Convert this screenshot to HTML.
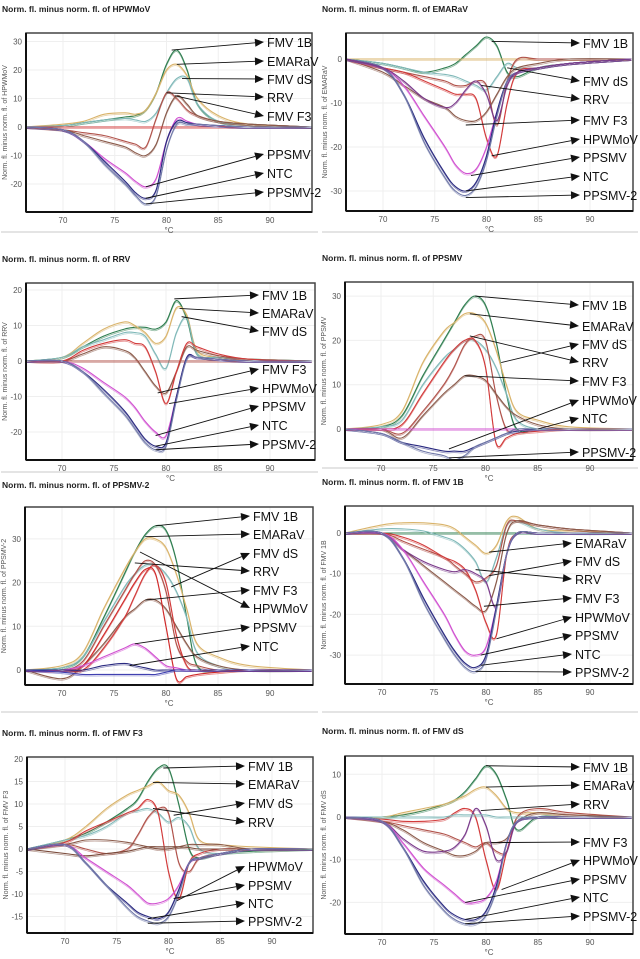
<!DOCTYPE html>
<html><head><meta charset="utf-8">
<style>
html,body{margin:0;padding:0;background:#fff;}
svg{display:block;font-family:"Liberation Sans",sans-serif;}
</style></head>
<body>
<svg id="fig" width="640" height="959" viewBox="0 0 640 959" xmlns="http://www.w3.org/2000/svg"></svg>
<script>
const X=[67,70,72,74,76,77,78,79,80,81,82,83,85,88,94];
const xTicks=[70,75,80,85,90];

const hpwmovNames=["FMV 1B","EMARaV","FMV dS","RRV","FMV F3","HPWMoV","PPSMV","NTC","PPSMV-2"];
const hpwmovSeries=[
[0,0.5,1.5,2.5,3.5,4,6,12,22,27,20,8,2,1,0],
[0,1,2,4.5,5,4.5,6,12,20,22,18,10,4,1,0],
[0,0.5,1.5,2.5,3,2.5,2,5,12,17,17,8,2,1,0],
[0,-1,-2,-3,-5,-6,-7,3,12,10,6,4,2,1,0],
[0,-1,-3,-5,-7,-9,-10,-6,5,11,8,4,2,1,0],
[0,0,0,0,0,0,0,0,0,0,0,0,0,0,0],
[0,-1,-5,-11,-16,-19,-21,-18,-5,3,2,1,0.5,0,0],
[0,-1,-5,-12,-19,-23,-25,-22,-5,2,1.5,1,0.5,0,0],
[0,-1,-5,-13,-20,-24,-27,-24,-8,1,1,1,0.5,0,0]];
const hpwmovYTicks=[-20,-10,0,10,20,30];

const emaravNames=["FMV 1B","EMARaV","FMV dS","RRV","FMV F3","HPWMoV","PPSMV","NTC","PPSMV-2","purple"];
const emaravSeries=[
[0,-1,-2,-3,-2,-1,1,3,5,3,-3,-4,-2,-1,0],
[0,0,0,0,0,0,0,0,0,0,0,0,0,0,0],
[0,-1,-2,-3,-3.5,-4,-5,-6,-7,-4,-1,-2,-2,-1,0],
[0,-2,-3,-4,-5,-6,-6,-5,-6,-15,-5,0,0,0,0],
[0,-3,-6,-9,-11,-13,-14,-14,-12,-8,-4,-2,-1,0,0],
[0,-2,-3,-5,-7,-8,-8,-9,-18,-22,-10,-3,-2,-1,0],
[0,-2,-6,-13,-20,-24,-26,-25,-20,-12,-5,-3,-2,-1,0],
[0,-2,-8,-18,-26,-29,-30,-28,-22,-12,-5,-3,-2,-1,0],
[0,-2,-8,-19,-27,-30,-31,-29,-23,-13,-5,-3,-2,-1,0],
[0,-2,-5,-9,-11,-10,-7,-5,-8,-14,-6,-3,-2,-1,0]];
const emaravYTicks=[-30,-20,-10,0];

const rrvNames=["FMV 1B","EMARaV","FMV dS","FMV F3","HPWMoV","RRV","PPSMV","NTC","PPSMV-2"];
const rrvSeries=[
[0,1,4,7,9,9.5,9.5,9,11,17,12,2,1,0.5,0],
[0,1,5,9,11,10,8,5,7,15,13,3,1,0.5,0],
[0,1,4,6,8,8,7,2,-2,8,12,2,1,0.5,0],
[0,0,2,4,3,1,-3,-7,-9,-3,4,3,1.5,0.5,0],
[0,0,3,5,6,5,4,-3,-12,-3,5,4,2,0.5,0],
[0,0,0,0,0,0,0,0,0,0,0,0,0,0,0],
[0,0,-2,-6,-10,-13,-17,-20,-21,-10,1,1,0.5,0,0],
[0,0,-3,-8,-14,-18,-22,-24,-23,-10,1,1,0.5,0,0],
[0,0,-3,-9,-15,-19,-23,-25,-24,-11,0.5,1,0.5,0,0]];
const rrvYTicks=[-20,-10,0,10,20];

const ppsmvNames=["FMV 1B","EMARaV","FMV dS","RRV","FMV F3","HPWMoV","NTC","PPSMV","PPSMV-2"];
const ppsmvSeries=[
[0,0.5,3,12,20,24,28,30,28,20,8,0,0,0,0],
[0,1,4,15,22,24,26,26,24,18,10,4,2,0.5,0],
[0,0.5,2,10,16,18,20,20,18,14,8,2,0,0,0],
[0,0,-1,4,10,14,19,21,20,8,0,0,0,0,0],
[0,0,-2,3,8,10,12,12,11,8,5,3,1,0,0],
[0,0,1,8,15,18,20,20,14,-3,-2,-1,-0.5,0,0],
[0,-1,-3,-4,-5,-5,-5,-4,-3,-2,-1,-0.5,0,0,0],
[0,0,0,0,0,0,0,0,0,0,0,0,0,0,0],
[0,-1,-3,-5,-6,-7,-6,-4,-3,-2,-1,0,0,0,0]];
const ppsmvYTicks=[0,10,20,30];

const ppsmv2Names=["FMV 1B","EMARaV","FMV dS","RRV","FMV F3","HPWMoV","red","PPSMV","NTC","navy"];
const ppsmv2Series=[
[0,0.5,3,12,22,27,31,33,32,25,12,1,0,0,0],
[0,1,4,14,23,27,30,30,28,22,14,6,3,1,0],
[0,0.5,3,11,19,22,24,24,22,18,12,4,1,0,0],
[0,0,2,10,18,22,25,24,18,6,2,1,0,0,0],
[0,-2,1,6,12,14,16,16,14,10,6,3,1,0,0],
[0,0,0,5,12,17,22,24,20,8,1,0,0,0,0],
[0,0,1,8,16,20,23,22,10,-2,-1.5,-1,-0.5,0,0],
[0,0,1,3,5,6,5,3,1,0.5,0,0,0,0,0],
[0,0,0,1,1.5,1,0.5,0,0,0,0,0,0,0,0],
[0,-0.5,-1,-1,-1,-1,-1,-1,-0.5,0,0,0,0,0,0]];
const ppsmv2YTicks=[0,10,20,30];

const fmv1bNames=["FMV 1B","EMARaV","FMV dS","RRV","FMV F3","HPWMoV","purple","PPSMV","NTC","PPSMV-2"];
const fmv1bSeries=[
[0,0,0,0,0,0,0,0,0,0,0,0,0,0,0],
[0,2,2.5,2.5,2,1,-1,-3,-5,-3,3,4,1,0.5,0],
[0,1,1,0.5,-1,-2,-4,-7,-12,-6,2,3,1,0,0],
[0,0,-2,-4,-6,-8,-10,-12,-11,-8,2,3,2,1,0],
[0,0,-4,-8,-12,-14,-16,-18,-19,-12,0,3,2,1,0],
[0,0,-1,-3,-6,-7,-9,-14,-22,-25,-5,0,0,0,0],
[0,0,-4,-7,-9,-9.5,-9,-10,-12,-18,-5,0,0,0,0],
[0,0,-4,-12,-20,-25,-29,-30,-28,-18,-5,0,0,0,0],
[0,0,-6,-16,-25,-29,-32,-33,-30,-18,-5,0,0,0,0],
[0,0,-6,-17,-26,-30,-33,-34,-31,-19,-5,0,0,0,0]];
const fmv1bYTicks=[-30,-20,-10,0];

const fmvf3Names=["FMV 1B","EMARaV","FMV dS","RRV","HPWMoV","FMV F3","brown2","PPSMV","NTC","PPSMV-2"];
const fmvf3Series=[
[0,2,3.5,6,9,11,15,18,18,10,0,-2,-1,-0.5,0],
[0,2,5,9,12,13,14,15,13,12,8,2,1,0.5,0],
[0,2,3,5,8,8.5,9,8,6,7,5,0,-1,0,0],
[0,1,0,-1,0,3,7,9,8,-3,-5,-2,-1,0,0],
[0,1.5,4,6,8,9,11,8,-5,-11,-3,-1,0,0,0],
[0,1,2,2,1.5,1,0.5,0,0,0.5,1,1,1,0,0],
[0,-1,-1.5,-1,-0.5,0,0.5,0.5,0.5,0.5,0.3,0,0,0,0],
[0,1,-2,-5,-8,-10,-12,-12,-11,-8,-3,-2,-1,0,0],
[0,1,-3,-8,-12,-14,-15,-15.5,-14,-9,-3,-2,-1,0,0],
[0,1,-3,-8,-13,-15,-16,-16.5,-15,-10,-3,-2,-1,0,0]];
const fmvf3YTicks=[-15,-10,-5,0,5,10,15,20];

const fmvdsNames=["FMV 1B","EMARaV","RRV","FMV F3","HPWMoV","purple","FMV dS","PPSMV","NTC","PPSMV-2"];
const fmvdsSeries=[
[0,0,0.5,1.5,3,4,6,9,12,10,4,-3,0,0,0],
[0,0,1,2,3,4,5,6.5,7,5,2,1,1,0.5,0],
[0,-1,-2,-3,-4,-5,-6,-7,-6,-8,-8,0,2,1,0],
[0,-1,-3,-6,-8,-9,-9,-8,-6,-6,-5,-1,1,0.5,0],
[0,-0.5,-1,-1,-0.5,1,2,0,-10,-17,-8,-1,0,0,0],
[0,-1,-5,-8,-8,-7,-4,2,-2,-10,-8,-1,0,0,0],
[0,0,0,0,0,0.5,0.5,0.5,0.5,0,0,0,0,0,0],
[0,-1,-6,-12,-16,-18,-20,-20,-19,-15,-6,-1,0,0,0],
[0,-1,-7,-15,-21,-23,-24,-24,-22,-16,-6,-1,0,0,0],
[0,-1,-7,-16,-22,-24,-25,-25,-23,-17,-6,-1,0,0,0]];
const fmvdsYTicks=[-20,-10,0,10];

const colorOf={"FMV 1B":"#2e7d4f","EMARaV":"#d9b36a","FMV dS":"#7fb8b8","RRV":"#b0524a","FMV F3":"#8a5a4a","HPWMoV":"#d23a3a","PPSMV":"#d04fd0","NTC":"#2a2a80","PPSMV-2":"#7078a8","purple":"#7a3a8a","red":"#d02a2a","navy":"#4040b0","brown2":"#7a4a3a"};

const panels=[
{id:"hpwmov",title:"Norm. fl. minus norm. fl. of HPWMoV",ylab:"Norm. fl. minus norm. fl. of HPWMoV",names:hpwmovNames,series:hpwmovSeries,yt:hpwmovYTicks,
 fx0:26,fx1:312,fy0:33,fy1:212,x70:63,x90:270,y0:127,yp:2.85,ty:8,lx:267,
 labels:[["FMV 1B",80.5,27,42],["EMARaV",81,22,61],["FMV dS",81.5,17,79],["RRV",80,12,97],["FMV F3",80.8,11,116],["PPSMV",78,-21,154],["NTC",78,-25,173],["PPSMV-2",78,-27,192]]},
{id:"emarav",title:"Norm. fl. minus norm. fl. of EMARaV",ylab:"Norm. fl. minus norm. fl. of EMARaV",names:emaravNames,series:emaravSeries,yt:emaravYTicks,
 fx0:346,fx1:633,fy0:33,fy1:211,x70:383,x90:590,y0:59,yp:4.4,ty:8,lx:583,
 labels:[["FMV 1B",80.5,4,43],["FMV dS",82,-2,81],["RRV",79.5,-6,99],["FMV F3",78,-15,120],["HPWMoV",80.5,-22,139],["PPSMV",78.5,-26.5,157],["NTC",78,-30,176],["PPSMV-2",78,-31.5,195]]},
{id:"rrv",title:"Norm. fl. minus norm. fl. of RRV",ylab:"Norm. fl. minus norm. fl. of RRV",names:rrvNames,series:rrvSeries,yt:rrvYTicks,
 fx0:26,fx1:315,fy0:283,fy1:460,x70:62,x90:270,y0:361,yp:3.55,ty:258,lx:262,
 labels:[["FMV 1B",80.8,17.5,295],["EMARaV",81.3,14.8,313],["FMV dS",81.5,12.5,331],["FMV F3",79.2,-9,369],["HPWMoV",80.3,-12,388],["PPSMV",79,-21,406],["NTC",79,-24,425],["PPSMV-2",79,-25,444]]},
{id:"ppsmv",title:"Norm. fl. minus norm. fl. of PPSMV",ylab:"Norm. fl. minus norm. fl. of PPSMV",names:ppsmvNames,series:ppsmvSeries,yt:ppsmvYTicks,
 fx0:345,fx1:633,fy0:282,fy1:460,x70:381,x90:590,y0:429,yp:4.43,ty:257,lx:582,
 labels:[["FMV 1B",79,30,305],["EMARaV",78.5,26,326],["FMV dS",81.5,15,344],["RRV",78.5,21,362],["FMV F3",78,12,381],["HPWMoV",76.5,-4.5,400],["NTC",85,0,418],["PPSMV-2",76.5,-6.5,452]]},
{id:"ppsmv2",title:"Norm. fl. minus norm. fl. of PPSMV-2",ylab:"Norm. fl. minus norm. fl. of PPSMV-2",names:ppsmv2Names,series:ppsmv2Series,yt:ppsmv2YTicks,
 fx0:25,fx1:313,fy0:507,fy1:685,x70:62,x90:270,y0:670,yp:4.37,ty:484,lx:253,
 labels:[["FMV 1B",79,33,516],["EMARaV",78,30.5,534],["FMV dS",80.5,19,553],["RRV",77,24.5,571],["FMV F3",78,16,590],["HPWMoV",77.5,27,608],["PPSMV",77,6,627],["NTC",76.5,1,646]]},
{id:"fmv1b",title:"Norm. fl. minus norm. fl. of FMV 1B",ylab:"Norm. fl. minus norm. fl. of FMV 1B",names:fmv1bNames,series:fmv1bSeries,yt:fmv1bYTicks,
 fx0:345,fx1:633,fy0:506,fy1:684,x70:382,x90:590,y0:533,yp:4.07,ty:481,lx:575,
 labels:[["EMARaV",80.3,-4.7,543],["FMV dS",80.3,-10.5,561],["RRV",79,-9,579],["FMV F3",79.8,-18,598],["HPWMoV",81,-26,617],["PPSMV",79.5,-30,635],["NTC",79.5,-32.5,654],["PPSMV-2",79,-34,672]]},
{id:"fmvf3",title:"Norm. fl. minus norm. fl. of FMV F3",ylab:"Norm. fl. minus norm. fl. of FMV F3",names:fmvf3Names,series:fmvf3Series,yt:fmvf3YTicks,
 fx0:27,fx1:313,fy0:757,fy1:933,x70:65,x90:272,y0:849,yp:4.5,ty:732,lx:248,
 labels:[["FMV 1B",79.5,18,766],["EMARaV",78.5,14.8,784],["FMV dS",80.5,7.5,803],["RRV",78.5,9,822],["HPWMoV",80.8,-11.5,866],["PPSMV",80.5,-11,885],["NTC",78,-15.5,903],["PPSMV-2",78,-16.5,921]]},
{id:"fmvds",title:"Norm. fl. minus norm. fl. of FMV dS",ylab:"Norm. fl. minus norm. fl. of FMV dS",names:fmvdsNames,series:fmvdsSeries,yt:fmvdsYTicks,
 fx0:345,fx1:633,fy0:756,fy1:934,x70:382,x90:590,y0:817,yp:4.27,ty:730,lx:583,
 labels:[["FMV 1B",80,12,767],["EMARaV",80,7,785],["RRV",79.5,1.5,804],["FMV F3",80.5,-6,842],["HPWMoV",81.5,-17,860],["PPSMV",78,-20,879],["NTC",78,-24,897],["PPSMV-2",78,-25,916]]}
];

const NS="http://www.w3.org/2000/svg";
const svg=document.getElementById('fig');
function mk(tag,attrs,parent){const e=document.createElementNS(NS,tag);for(const k in attrs)e.setAttribute(k,attrs[k]);(parent||svg).appendChild(e);return e;}
function smooth(pts){let d="M"+pts[0][0].toFixed(1)+","+pts[0][1].toFixed(1);
 for(let i=0;i<pts.length-1;i++){const p0=pts[Math.max(0,i-1)],p1=pts[i],p2=pts[i+1],p3=pts[Math.min(pts.length-1,i+2)];
 const c1=[p1[0]+(p2[0]-p0[0])/6,p1[1]+(p2[1]-p0[1])/6],c2=[p2[0]-(p3[0]-p1[0])/6,p2[1]-(p3[1]-p1[1])/6];
 d+="C"+c1[0].toFixed(1)+","+c1[1].toFixed(1)+" "+c2[0].toFixed(1)+","+c2[1].toFixed(1)+" "+p2[0].toFixed(1)+","+p2[1].toFixed(1);}
 return d;}

// light separators between panels
[[1,232,318,232],[322,232,638,232],[1,472,318,472],[322,468,638,468],[1,712,318,712],[322,712,638,712]].forEach(s=>{
 const ln=mk('line',{x1:s[0],y1:s[1],x2:s[2],y2:s[3],stroke:'#dcdcdc','stroke-width':1.5});
 
 
});

panels.forEach(p=>{
 const g=mk('g',{});
 
 
 const xs=v=>p.x70+(v-70)*(p.x90-p.x70)/20;
 const ys=v=>p.y0-v*p.yp;
 const t=mk('text',{x:p.fx0<100?2:322,y:p.ty+4,'font-size':'8.5','font-weight':'bold',fill:'#222'},g);
 t.textContent=p.title;
 
 
 xTicks.forEach(v=>{mk('line',{x1:xs(v),x2:xs(v),y1:p.fy0,y2:p.fy1,stroke:'#efefef','stroke-width':1},g);
  const tl=mk('text',{x:xs(v),y:p.fy1+11,'font-size':'8',fill:'#555','text-anchor':'middle'},g);tl.textContent=v;
  });
 p.yt.forEach(v=>{mk('line',{x1:p.fx0,x2:p.fx1,y1:ys(v),y2:ys(v),stroke:'#efefef','stroke-width':1},g);
  const tl=mk('text',{x:p.fx0-4,y:ys(v)+3,'font-size':'8',fill:'#555','text-anchor':'end'},g);tl.textContent=v;
  });
 const xt=mk('text',{x:(p.fx0+p.fx1)/2,y:p.fy1+21,'font-size':'8',fill:'#555','text-anchor':'middle'},g);xt.textContent='°C';
 
 const cy=(p.fy0+p.fy1)/2,cx=p.fx0-19;
 const yl=mk('text',{x:cx,y:cy,'font-size':'7',fill:'#555','text-anchor':'middle',transform:`rotate(-90 ${cx} ${cy})`},g);yl.textContent=p.ylab;
 
 const clip=mk('clipPath',{id:'c'+p.id},g);mk('rect',{x:p.fx0,y:p.fy0,width:p.fx1-p.fx0,height:p.fy1-p.fy0},clip);
 const cg=mk('g',{'clip-path':`url(#c${p.id})`},g);
 p.series.forEach((s,i)=>{
  const pts=s.map((v,j)=>[xs(X[j]),ys(v)]);
  pts[0][0]=p.fx0;
  const path=mk('path',{d:smooth(pts),fill:'none',stroke:colorOf[p.names[i]]||'#888','stroke-width':1.1},cg);
  
  
  const path2=mk('path',{d:smooth(pts.map(q=>[q[0],q[1]+1.5])),fill:'none',stroke:colorOf[p.names[i]]||'#888','stroke-width':0.8,opacity:0.55},cg);
  
  
 });
 mk('rect',{x:p.fx0,y:p.fy0,width:p.fx1-p.fx0,height:p.fy1-p.fy0,fill:'none',stroke:'#444','stroke-width':1.5},g);
 mk('line',{x1:p.fx0,y1:p.fy0,x2:p.fx0,y2:p.fy1,stroke:'#111','stroke-width':2},g);
 mk('line',{x1:p.fx0,y1:p.fy1,x2:p.fx1,y2:p.fy1,stroke:'#111','stroke-width':2},g);
 p.labels.forEach(l=>{
  const sx=xs(l[1]),sy=ys(l[2]),ex=p.lx-3,ey=l[3];
  const ang=Math.atan2(ey-sy,ex-sx),ca=Math.cos(ang),sa=Math.sin(ang);
  const bx=ex-9*ca,by=ey-9*sa;
  mk('line',{x1:sx,y1:sy,x2:bx,y2:by,stroke:'#111','stroke-width':0.9},g);
  mk('polygon',{points:`${ex},${ey} ${bx-4*sa},${by+4*ca} ${bx+4*sa},${by-4*ca}`,fill:'#111'},g);
  const tx=mk('text',{x:p.lx,y:ey+5,'font-size':'12.5',fill:'#111'},g);tx.textContent=l[0];
  
  
 });
});
</script>
</body></html>
